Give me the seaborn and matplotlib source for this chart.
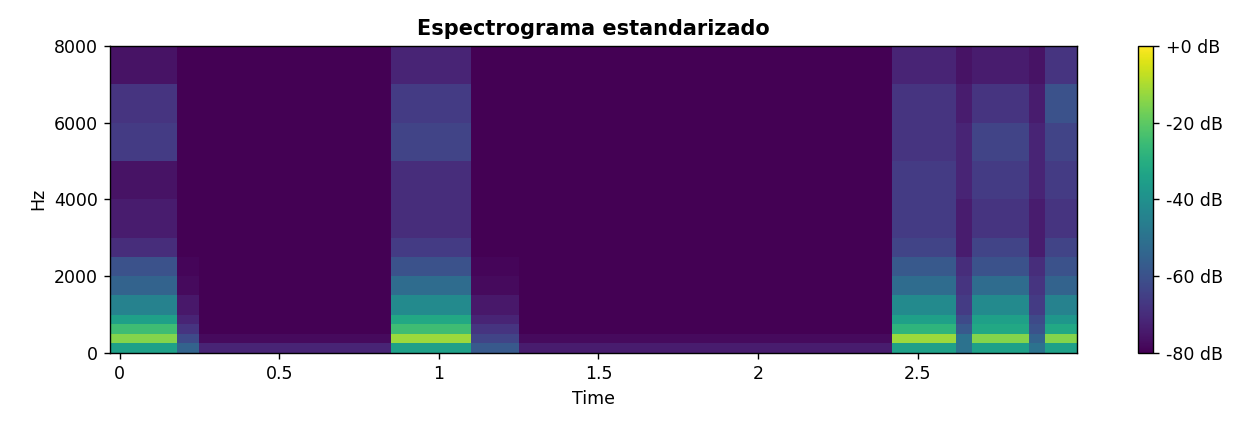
import numpy as np
import matplotlib
matplotlib.use("Agg")
import matplotlib.pyplot as plt
import seaborn as sns
from matplotlib.ticker import FuncFormatter

sns.set_style("ticks")
plt.rcParams['font.family'] = ['DejaVu Sans']
plt.rcParams.update({"text.color": "black", "axes.labelcolor": "black",
                     "xtick.color": "black", "ytick.color": "black",
                     "axes.edgecolor": "black"})

# time segment edges (s)
time_edges = [-0.03, 0.18, 0.25, 0.85, 1.10, 1.25, 2.42, 2.62, 2.67, 2.85, 2.90, 3.0]
# frequency band edges (Hz)
freq_edges = [0, 250, 500, 750, 1000, 1500, 2000, 2500, 3000, 4000, 5000, 6000, 7000, 8000]
# dB level per band (low -> high) for each time segment
speech1 = [-35, -15, -25, -35, -45, -55, -60, -70, -74, -76, -66, -68, -76]
fade1   = [-55, -62, -68, -72, -75, -78, -79, -80, -80, -80, -80, -80, -80]
quiet1  = [-72, -78, -80, -80, -80, -80, -80, -80, -80, -80, -80, -80, -80]
speech2 = [-35, -12, -25, -32, -42, -52, -60, -66, -70, -70, -64, -66, -72]
fade2   = [-58, -64, -68, -72, -75, -78, -79, -80, -80, -80, -80, -80, -80]
quiet2  = [-74, -78, -80, -80, -80, -80, -80, -80, -80, -80, -80, -80, -80]
speech3a = [-35, -12, -28, -35, -42, -52, -58, -64, -66, -66, -68, -68, -72]
gap3    = [-50, -50, -58, -62, -66, -68, -70, -74, -74, -72, -72, -74, -76]
speech3b = [-35, -15, -32, -35, -42, -52, -60, -64, -68, -66, -64, -68, -74]
gap3b   = [-50, -55, -60, -62, -66, -68, -70, -74, -74, -72, -72, -74, -76]
speech3c = [-35, -15, -32, -38, -45, -55, -60, -64, -68, -66, -64, -60, -68]

segments = [speech1, fade1, quiet1, speech2, fade2, quiet2,
            speech3a, gap3, speech3b, gap3b, speech3c]
S = np.array(segments).T

fig = plt.figure(figsize=(10.008, 3.456), dpi=125)
ax = fig.add_axes([0.088, 0.183, 0.773, 0.711])
cax = fig.add_axes([0.910, 0.183, 0.012, 0.711])
mesh = ax.pcolormesh(time_edges, freq_edges, S, cmap="viridis", vmin=-80, vmax=0, shading="flat")
ax.set_xlim(-0.03, 3.0)
ax.set_ylim(0, 8000)
ax.set_xticks([0, 0.5, 1, 1.5, 2, 2.5])
ax.set_xticklabels(["0", "0.5", "1", "1.5", "2", "2.5"])
ax.set_yticks([0, 2000, 4000, 6000, 8000])
ax.set_xlabel("Time")
ax.set_ylabel("Hz")
ax.set_title("Espectrograma estandarizado", fontweight="bold")
cb = fig.colorbar(mesh, cax=cax, format=FuncFormatter(lambda v, p: f"{v:+.0f} dB"))
cb.set_ticks([0, -20, -40, -60, -80])
cb.outline.set_edgecolor("black")
fig.savefig("out.png")
